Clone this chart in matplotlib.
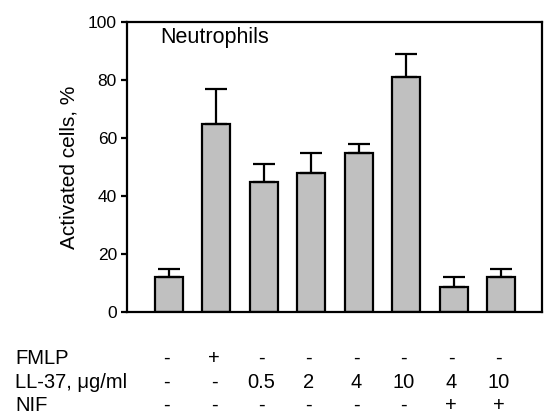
import matplotlib
matplotlib.use("Agg")
import matplotlib.pyplot as plt
import matplotlib.transforms as mtransforms
import numpy as np

plt.rcParams["font.family"] = ["Liberation Sans", "DejaVu Sans"]

# treatment groups, one bar each
activated = [12, 65, 45, 48, 55, 81, 8.5, 12]
err_upper = [3, 12, 6, 7, 3, 8, 3.5, 3]

row_labels = ["FMLP", "LL-37, \u03bcg/ml", "NIF"]
fmlp = ["-", "+", "-", "-", "-", "-", "-", "-"]
ll37 = ["-", "-", "0.5", "2", "4", "10", "4", "10"]
nif = ["-", "-", "-", "-", "-", "-", "+", "+"]

W, H = 546, 418
fig = plt.figure(figsize=(W / 100, H / 100), dpi=100)
ax = fig.add_axes([127 / W, 1 - 312 / H, 415 / W, 290 / H])

x = np.arange(len(activated))
ax.bar(x, activated, width=0.59, color="#c0c0c0", edgecolor="black",
       linewidth=1.6, zorder=2)
ax.errorbar(x, activated, yerr=[np.zeros(len(err_upper)), err_upper],
            fmt="none", ecolor="black", elinewidth=1.6, capsize=8,
            capthick=1.6, zorder=3)

ax.set_xlim(-0.886, 7.865)
ax.set_ylim(0, 100)
ax.set_yticks([0, 20, 40, 60, 80, 100])
ax.set_xticks([])
ax.tick_params(axis="y", direction="out", length=4.2, width=1.6,
               labelsize=12.5, pad=3)
for sp in ax.spines.values():
    sp.set_linewidth(1.6)
ax.set_ylabel("Activated cells, %", fontsize=15, labelpad=7)
ax.text(0.08, 0.928, "Neutrophils", transform=ax.transAxes, fontsize=15.5,
        va="baseline", ha="left")

# treatment table under the axis
trans = mtransforms.blended_transform_factory(ax.transData, fig.transFigure)
row_base = [1 - 364 / H, 1 - 388 / H, 1 - 411 / H]
for ry, label, row in zip(row_base, row_labels, [fmlp, ll37, nif]):
    fig.text(15 / W, ry, label, fontsize=14.5, va="baseline", ha="left")
    for xi, val in zip(x, row):
        ax.text(xi - 0.05, ry, val, transform=trans, fontsize=14.5,
                va="baseline", ha="center", clip_on=False)

fig.savefig("out.png", dpi=100)
